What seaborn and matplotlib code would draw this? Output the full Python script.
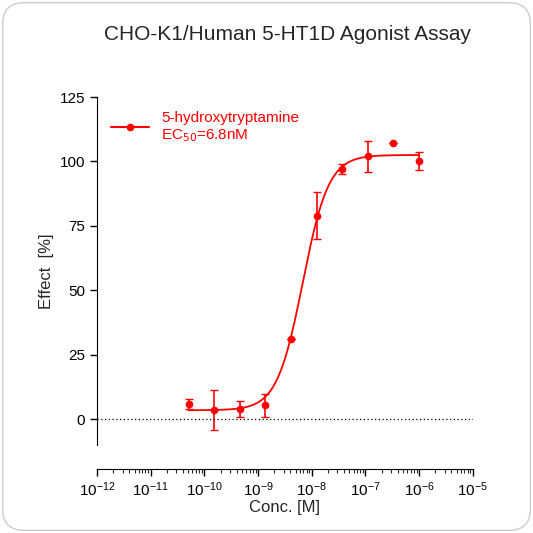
import numpy as np
import matplotlib
matplotlib.use("Agg")
import matplotlib.pyplot as plt
import seaborn as sns
from matplotlib.patches import FancyBboxPatch
from matplotlib.ticker import LogLocator

sns.set_style("white")
plt.rcParams['font.family'] = ['Liberation Sans', 'DejaVu Sans']

conc = [5.1e-11, 1.52e-10, 4.57e-10, 1.37e-9, 4.12e-9, 1.23e-8, 3.7e-8, 1.11e-7, 3.33e-7, 1e-6]
effect = [5.8, 3.5, 3.9, 5.4, 31.3, 79, 97, 102, 107, 100]
err = [2, 7.7, 3, 4.5, 0, 9, 2, 6, 0, 3.5]
bottom, top, ec50, hill = 3.5, 102.5, 6.8e-9, 1.8

fig = plt.figure(figsize=(5.33, 5.33), dpi=100)
bg = FancyBboxPatch((0.005, 0.005), 0.99, 0.99, boxstyle="round,pad=0,rounding_size=0.04",
                    transform=fig.transFigure, facecolor='white', edgecolor='#cccccc', lw=1, zorder=-10)
fig.patches.append(bg)
ax = fig.add_axes([0.182, 0.165, 0.705, 0.653])
ax.set_facecolor('none')
ax.set_zorder(5)

xc = np.logspace(-10.3, -6, 300)
yc = bottom + (top - bottom) / (1 + (ec50 / xc) ** hill)
sns.lineplot(x=xc, y=yc, ax=ax, color='red', lw=1.3)
ax.errorbar(conc, effect, yerr=err, fmt='o', color='red', ms=4.5, capsize=3, elinewidth=1.2)
ax.plot([], [], '-o', color='red', ms=4.5, label='5-hydroxytryptamine\nEC$_{50}$=6.8nM')
ax.axhline(0, color='black', ls=(0, (1, 2)), lw=0.9)

ax.set_xscale('log')
ax.set_xlim(1e-12, 1e-5)
ax.set_ylim(-10, 125)
ax.set_yticks([0, 25, 50, 75, 100, 125])
ax.xaxis.set_major_locator(LogLocator(base=10, numticks=20))
ax.xaxis.set_minor_locator(LogLocator(base=10, subs=np.arange(2, 10), numticks=100))
for s in ['top', 'right']:
    ax.spines[s].set_visible(False)
ax.spines['bottom'].set_position(('outward', 17))
ax.spines['left'].set_color('black')
ax.spines['bottom'].set_color('black')
ax.tick_params(axis='both', which='major', length=5, width=1, direction='out', labelsize=11, colors='black', left=True, bottom=True)
ax.tick_params(axis='x', which='minor', length=3, width=0.8, bottom=True)
ax.set_xlabel('Conc. [M]', fontsize=12, labelpad=1)
ax.set_ylabel('Effect  [%]', fontsize=12)
leg = ax.legend(loc='upper left', bbox_to_anchor=(0.0, 1.0), frameon=False, fontsize=11, handlelength=2.5)
for t in leg.get_texts():
    t.set_color('red')
fig.text(0.54, 0.935, 'CHO-K1/Human 5-HT1D Agonist Assay', ha='center', va='center', fontsize=15)
fig.savefig('out.png', dpi=100)
